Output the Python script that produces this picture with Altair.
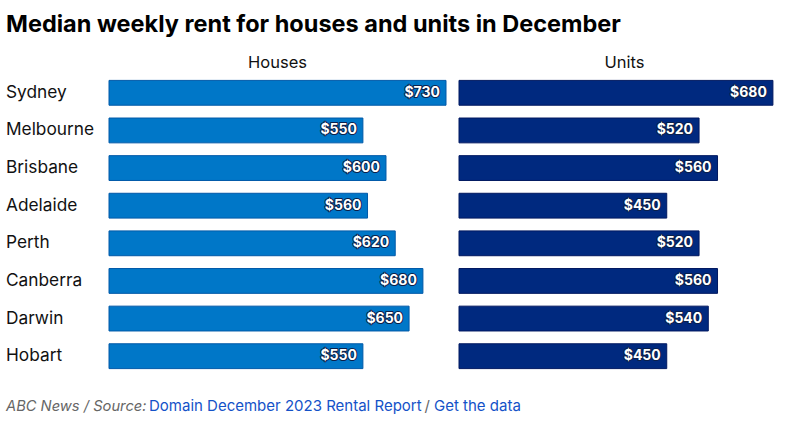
import altair as alt
import pandas as pd

cities = ["Sydney", "Melbourne", "Brisbane", "Adelaide", "Perth", "Canberra", "Darwin", "Hobart"]
houses = [730, 550, 600, 560, 620, 680, 650, 550]
units = [680, 520, 560, 450, 520, 560, 540, 450]

title_text = "Median weekly rent for houses and units in December"
panel_titles = ["Houses", "Units"]
footer_parts = ["ABC News / Source:", "Domain December 2023 Rental Report", "/", "Get the data"]

FONT = "Inter"
H_COLOR, H_STROKE = "#0077C8", "#0059A8"
U_COLOR, U_STROKE = "#00297F", "#001860"

df_h = pd.DataFrame({"city": cities, "value": houses,
                     "label": ["$" + str(v) for v in houses]})
df_u = pd.DataFrame({"city": cities, "value": units,
                     "label": ["$" + str(v) for v in units]})

PLOT_H = 301
y_enc = alt.Y("city:N", sort=cities, axis=None,
              scale=alt.Scale(paddingInner=0.34, paddingOuter=0.17))


def panel(df, width, domain_max, color, stroke, header):
    x_enc = alt.X("value:Q", axis=None, scale=alt.Scale(domain=[0, domain_max], nice=False))
    base = alt.Chart(df)
    bars = base.mark_bar(color=color, stroke=stroke, strokeWidth=1).encode(x=x_enc, y=y_enc)
    halo = base.mark_text(align="right", baseline="middle", dx=-6, font=FONT, fontSize=14,
                          fontWeight="bold", stroke="#0b1f4a", strokeWidth=2,
                          fill="#0b1f4a", strokeJoin="round").encode(x=x_enc, y=y_enc, text="label:N")
    labels = base.mark_text(align="right", baseline="middle", dx=-6, font=FONT, fontSize=14,
                            fontWeight="bold", color="white").encode(x=x_enc, y=y_enc, text="label:N")
    head = alt.Chart(pd.DataFrame({"t": [header]})).mark_text(
        align="center", baseline="middle", font=FONT, fontSize=16.5, color="#111111"
    ).encode(x=alt.value(width / 2), y=alt.value(-11), text="t:N")
    return [bars, halo, labels, head]


left_layers = panel(df_h, 337, 730, H_COLOR, H_STROKE, panel_titles[0])
city_labels = alt.Chart(df_h).mark_text(
    align="left", baseline="middle", font=FONT, fontSize=17.3, color="#111111"
).encode(x=alt.value(-103), y=y_enc, text="city:N")
title = alt.Chart(pd.DataFrame({"t": [title_text]})).mark_text(
    align="left", baseline="alphabetic", font=FONT, fontSize=23.5, fontWeight="bold", color="#000000"
).encode(x=alt.value(-103), y=alt.value(-42), text="t:N")
anchor = alt.Chart(pd.DataFrame({"t": [" "]})).mark_text(
    align="left", baseline="top", font=FONT, fontSize=10, opacity=0
).encode(x=alt.value(-103), y=alt.value(-74), text="t:N")

foot_x = [-103, 40, 315.5, 325]
foot_colors = ["#666666", "#1452C8", "#666666", "#1452C8"]
foot_style = ["italic", "normal", "normal", "normal"]
foot_size = [14.7, 15, 15, 15]
footer = []
for txt, fx, fc, fs, fz in zip(footer_parts, foot_x, foot_colors, foot_style, foot_size):
    footer.append(alt.Chart(pd.DataFrame({"t": [txt]})).mark_text(
        align="left", baseline="alphabetic", font=FONT, fontSize=fz, color=fc, fontStyle=fs
    ).encode(x=alt.value(fx), y=alt.value(337), text="t:N"))

left = alt.layer(*left_layers, city_labels, title, anchor, *footer).properties(width=337, height=PLOT_H)
right = alt.layer(*panel(df_u, 331, 730 * 331 / 337, U_COLOR, U_STROKE, panel_titles[1])).properties(
    width=331, height=PLOT_H)

chart = alt.hconcat(left, right, spacing=13, bounds="flush").properties(
    padding={"left": 6, "top": 0, "right": 0, "bottom": 4},
    background="white"
).configure_view(stroke=None, strokeWidth=0)

chart.save("out.html", embed_options={"renderer": "svg", "actions": False})
